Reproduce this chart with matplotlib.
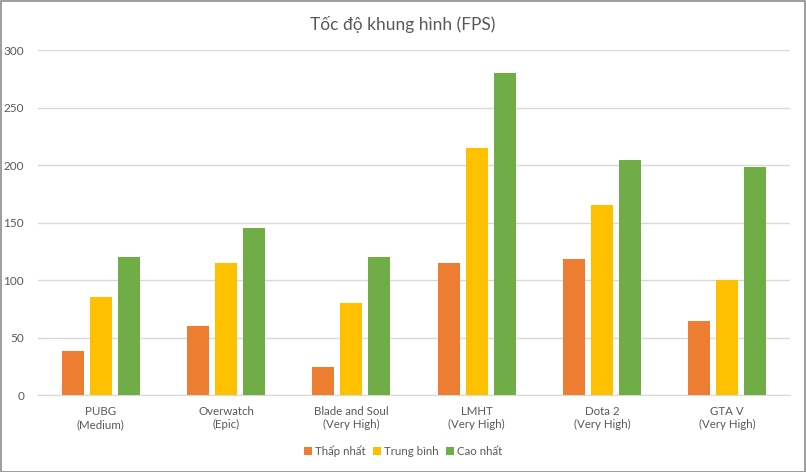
import matplotlib
matplotlib.use("Agg")
import matplotlib.pyplot as plt
import numpy as np
from matplotlib.patches import Rectangle

plt.rcParams['font.family'] = ['Lato', 'DejaVu Sans']

games = ['PUBG\n(Medium)', 'Overwatch\n(Epic)', 'Blade and Soul\n(Very High)',
         'LMHT\n(Very High)', 'Dota 2\n(Very High)', 'GTA V\n(Very High)']
fps_min = [38, 60, 24, 115, 118, 64]
fps_avg = [85, 115, 80, 215, 165, 100]
fps_max = [120, 145, 120, 280, 204, 198]
series_names = ['Thấp nhất', 'Trung bình', 'Cao nhất']
colors = ['#ED7D31', '#FFC000', '#70AD47']

TEXT = '#595959'
GRID = '#D9D9D9'

fig = plt.figure(figsize=(8.06, 4.72), dpi=100)
ax = fig.add_axes([0.0471, 0.1631, 0.933, 0.7309])

xs = np.arange(len(games))
w = 0.1756
step = 0.2234
for i, (vals, name, c) in enumerate(zip([fps_min, fps_avg, fps_max], series_names, colors)):
    ax.bar(xs + (i - 1) * step, vals, width=w, color=c, label=name, zorder=3)

ax.set_xlim(-0.5, len(games) - 0.5)
ax.set_ylim(0, 300)
ax.set_yticks(range(0, 301, 50))
ax.set_xticks(xs)
ax.set_xticklabels(games, fontsize=8.3, color=TEXT, linespacing=1.25)
ax.tick_params(axis='y', labelsize=8.5, labelcolor=TEXT, length=0, pad=10)
ax.tick_params(axis='x', length=0, pad=8)
ax.grid(axis='y', color=GRID, linewidth=1, zorder=0)
for s in ['top', 'right', 'left']:
    ax.spines[s].set_visible(False)
ax.spines['bottom'].set_color(GRID)

fig.text(0.5, 0.949, 'Tốc độ khung hình (FPS)', ha='center', va='center',
         fontsize=12.5, color=TEXT)

leg = fig.legend(loc='center', bbox_to_anchor=(0.5, 0.043), ncol=3, frameon=False,
                 fontsize=8.3, handlelength=0.7, handleheight=0.7, handletextpad=0.3,
                 columnspacing=0.6)
for t in leg.get_texts():
    t.set_color(TEXT)

fig.patches.append(Rectangle((0.001, 0.001), 0.998, 0.997, transform=fig.transFigure,
                             fill=False, edgecolor='#8C8C8C', linewidth=1.2))

fig.savefig('out.png', dpi=100, facecolor='white')
